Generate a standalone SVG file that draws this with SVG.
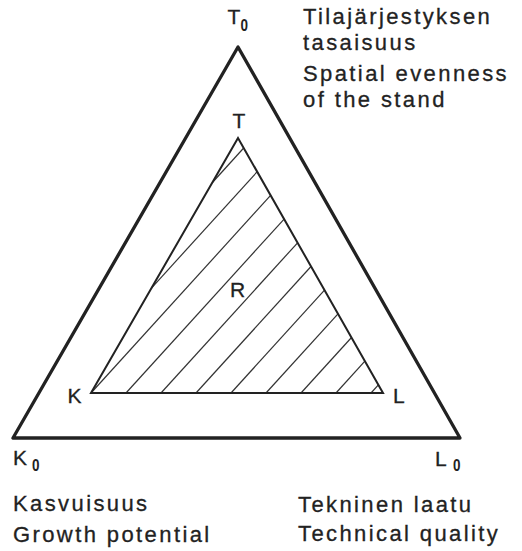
<svg xmlns="http://www.w3.org/2000/svg" width="522" height="551" viewBox="0 0 522 551">
<style>
  .lbl { font-family: "Liberation Sans", Arial, sans-serif; font-size: 22px; letter-spacing: 2.4px; fill: #222; stroke: #222; stroke-width: 0.3; }
  .vtx { font-family: "Liberation Sans", Arial, sans-serif; font-size: 21px; fill: #222; stroke: #222; stroke-width: 0.3; }
  .sub { font-family: "Liberation Sans", Arial, sans-serif; font-size: 17px; font-weight: bold; fill: #222; }
  .outer { fill: none; stroke: #222; stroke-width: 3.3; stroke-linejoin: round; }
  .inner { fill: none; stroke: #222; stroke-width: 2; stroke-linejoin: miter; }
  .hatch { stroke: #333; stroke-width: 1.2; }
</style>
<rect width="522" height="551" fill="#fff"/>
<g id="outer-triangle">
  <polygon class="outer" points="238,47 13,438 460,438"/>
</g>
<g id="region-R">
  <g id="hatching">
    <line class="hatch" x1="212.4" y1="182.5" x2="243.7" y2="148.0"/>
    <line class="hatch" x1="151.7" y1="287.8" x2="257.2" y2="171.7"/>
    <line class="hatch" x1="91" y1="393" x2="270.6" y2="195.4"/>
    <line class="hatch" x1="126" y1="393" x2="284.1" y2="219.1"/>
    <line class="hatch" x1="161" y1="393" x2="297.6" y2="242.8"/>
    <line class="hatch" x1="196" y1="393" x2="311.0" y2="266.5"/>
    <line class="hatch" x1="231" y1="393" x2="324.5" y2="290.1"/>
    <line class="hatch" x1="266" y1="393" x2="338.0" y2="313.8"/>
    <line class="hatch" x1="301" y1="393" x2="351.5" y2="337.5"/>
    <line class="hatch" x1="336" y1="393" x2="364.9" y2="361.2"/>
    <line class="hatch" x1="371" y1="393" x2="378.4" y2="384.9"/>
  </g>
  <polygon class="inner" points="238,138 91,393 383,393"/>
  <text class="vtx" x="230" y="297">R</text>
</g>
<g id="vertex-T">
  <text class="vtx" x="232.5" y="128">T</text>
</g>
<g id="vertex-K">
  <text class="vtx" x="67.5" y="402.5">K</text>
</g>
<g id="vertex-L">
  <text class="vtx" x="393" y="402.5">L</text>
</g>
<g id="vertex-T0">
  <text class="vtx" x="227.5" y="23.5">T</text>
  <text class="sub" x="240.5" y="31" textLength="7.5" lengthAdjust="spacingAndGlyphs">0</text>
  <text class="lbl" x="303" y="24">Tilajärjestyksen</text>
  <text class="lbl" x="303" y="50">tasaisuus</text>
  <text class="lbl" x="303" y="81">Spatial evenness</text>
  <text class="lbl" x="303" y="107">of the stand</text>
</g>
<g id="vertex-K0">
  <text class="vtx" x="13" y="465">K</text>
  <text class="sub" x="32" y="470.5" textLength="7.5" lengthAdjust="spacingAndGlyphs">0</text>
  <text class="lbl" x="13" y="511">Kasvuisuus</text>
  <text class="lbl" x="13" y="542">Growth potential</text>
</g>
<g id="vertex-L0">
  <text class="vtx" x="435" y="466">L</text>
  <text class="sub" x="453" y="471" textLength="7.5" lengthAdjust="spacingAndGlyphs">0</text>
  <text class="lbl" x="298" y="512">Tekninen laatu</text>
  <text class="lbl" x="298" y="541">Technical quality</text>
</g>
</svg>
